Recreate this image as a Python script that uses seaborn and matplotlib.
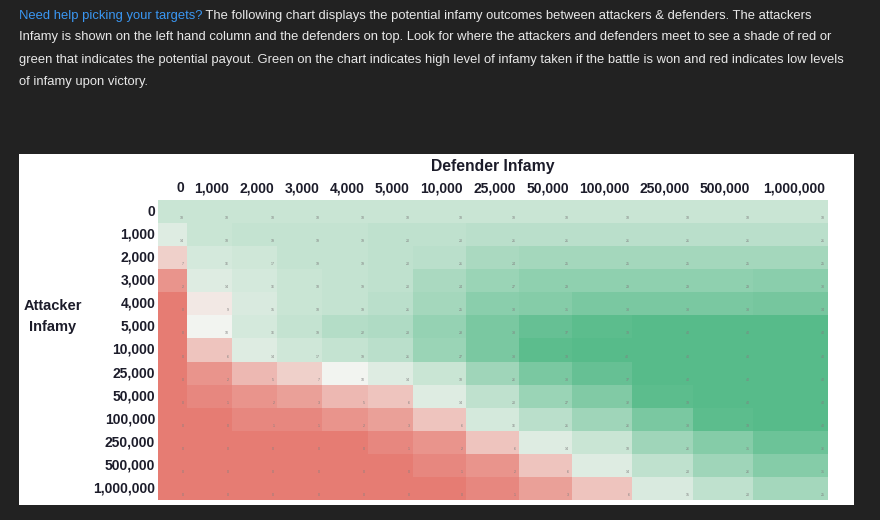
"""
Tabla de infamia: atacante vs defensor, como mapa de calor estilo hoja de calculo.
"""

import matplotlib.pyplot as plt
import seaborn as sns
import numpy as np
from matplotlib.colors import LinearSegmentedColormap, TwoSlopeNorm
from matplotlib.transforms import ScaledTranslation

infamy_levels = ["0", "1,000", "2,000", "3,000", "4,000", "5,000", "10,000",
                 "25,000", "50,000", "100,000", "250,000", "500,000", "1,000,000"]
attacker_labels = infamy_levels
defender_labels = infamy_levels

# infamia obtenida (estimada por el color de cada celda); filas = atacante, columnas = defensor
infamy_taken = np.array([
    [18, 18, 18, 18, 18, 18, 18, 18, 18, 18, 18, 18, 18],
    [14, 18, 19, 19, 19, 20, 20, 21, 21, 21, 21, 21, 21],
    [7, 16, 17, 19, 19, 20, 21, 24, 25, 25, 25, 25, 25],
    [2, 14, 16, 18, 19, 20, 24, 27, 29, 29, 29, 29, 30],
    [0, 9, 15, 18, 19, 21, 25, 30, 31, 33, 33, 33, 34],
    [0, 10, 16, 19, 22, 23, 28, 33, 37, 39, 40, 40, 40],
    [0, 6, 14, 17, 19, 21, 27, 33, 39, 40, 40, 40, 40],
    [0, 2, 5, 7, 10, 14, 18, 26, 33, 37, 40, 40, 40],
    [0, 1, 2, 3, 5, 6, 14, 20, 27, 32, 39, 40, 40],
    [0, 0, 1, 1, 2, 3, 6, 16, 21, 26, 33, 39, 40],
    [0, 0, 0, 0, 0, 1, 2, 6, 14, 18, 26, 31, 36],
    [0, 0, 0, 0, 0, 0, 1, 2, 6, 14, 20, 26, 31],
    [0, 0, 0, 0, 0, 0, 0, 1, 3, 6, 15, 20, 25],
])

intro_link = "Need help picking your targets?"
intro_lines = [
    " The following chart displays the potential infamy outcomes between attackers & defenders. The attackers",
    "Infamy is shown on the left hand column and the defenders on top. Look for where the attackers and defenders meet to see a shade of red or",
    "green that indicates the potential payout. Green on the chart indicates high level of infamy taken if the battle is won and red indicates low levels",
    "of infamy upon victory.",
]

# anchos relativos de columna (como en la hoja original)
col_widths = [29, 45, 45, 45, 45, 45, 53, 53, 53, 60, 60, 60, 75]

sns.set_theme(style="white")
plt.rcParams['font.family'] = ['Liberation Sans', 'DejaVu Sans']

W, H = 880, 520
bg = '#222222'
ink = '#1c1c2a'
fig = plt.figure(figsize=(W / 100, H / 100), dpi=100, facecolor=bg)

# capa de fondo: texto introductorio y panel blanco
base = fig.add_axes([0, 0, 1, 1])
base.set_xlim(0, W)
base.set_ylim(H, 0)
base.axis('off')

line_y = [15.5, 37, 59.5, 81.5]
para_kw = dict(color='#e8e8e8', fontsize=10, va='center', ha='left')
t0 = base.text(19, line_y[0], intro_link, **dict(para_kw, color='#3a97f3'))
t1 = base.annotate(intro_lines[0], xy=(1, 0.5), xycoords=t0, **para_kw)
body = [t1] + [base.text(19, y, txt, **para_kw) for txt, y in zip(intro_lines[1:], line_y[1:])]

# ajustar el tamano para que la linea mas larga llegue al borde derecho como en el original
renderer = fig.canvas.get_renderer()
w3 = body[2].get_window_extent(renderer).width
para_size = 10 * (848 - 19) / w3
for t in [t0] + body:
    t.set_fontsize(para_size)

base.add_patch(plt.Rectangle((19, 154), 835, 351, facecolor='white', edgecolor='none'))

# escala rojo -> casi blanco -> verde, como el formato condicional de la hoja
cmap = LinearSegmentedColormap.from_list('sheets', ['#e67c73', '#f3f4f0', '#57bb8a'])
norm = TwoSlopeNorm(vmin=0, vcenter=10, vmax=40)

gs = fig.add_gridspec(1, len(defender_labels), left=158 / W, right=828 / W,
                      bottom=20 / H, top=320 / H, width_ratios=col_widths, wspace=0)

label_kw = dict(fontsize=10, fontweight='bold', color=ink)
for j, label in enumerate(defender_labels):
    ax = fig.add_subplot(gs[0, j])
    sns.heatmap(infamy_taken[:, [j]], ax=ax, cmap=cmap, norm=norm, cbar=False,
                xticklabels=[label], yticklabels=attacker_labels if j == 0 else False)
    for i, v in enumerate(infamy_taken[:, j]):
        ax.annotate(str(v), xy=(1, i + 1), xytext=(-3, 3), textcoords='offset pixels',
                    ha='right', va='bottom', fontsize=2.6, color='#808080')
    ax.set_xticks([1], [label])
    ax.tick_params(axis='x', top=False, bottom=False, labeltop=True, labelbottom=False,
                   length=0, pad=3.5)
    for t in ax.get_xticklabels():
        t.set_ha('right')
        t.set(**label_kw)
        t.set_transform(t.get_transform() + ScaledTranslation(-3 / 100, 0, fig.dpi_scale_trans))
    if j == 0:
        ax.tick_params(axis='y', left=False, length=0, pad=2)
        for t in ax.get_yticklabels():
            t.set_rotation(0)
            t.set(**label_kw)
    ax.set_xlabel('')
    ax.set_ylabel('')

base.text(493, 166, "Defender Infamy", ha='center', va='center',
          fontsize=11.3, fontweight='bold', color=ink)
base.text(53, 316.5, "Attacker\nInfamy", ha='center', va='center',
          linespacing=1.6, fontsize=10.5, fontweight='bold', color=ink)

plt.savefig('out.png', dpi=100, facecolor=bg)
plt.close()
